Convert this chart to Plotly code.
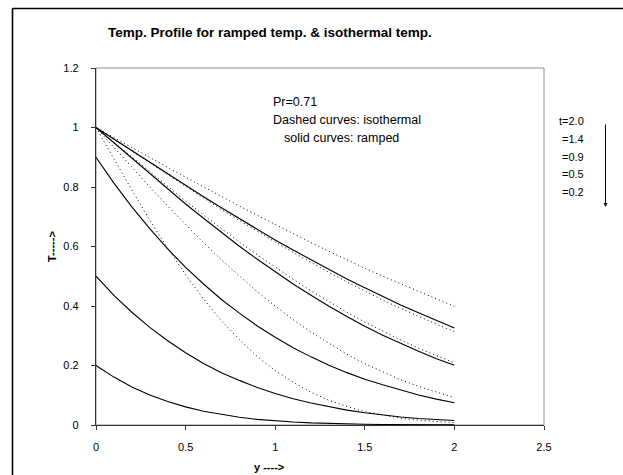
import plotly.graph_objects as go

y_vals = [0.0, 0.1, 0.2, 0.3, 0.4, 0.5, 0.6, 0.7, 0.8, 0.9, 1.0,
          1.1, 1.2, 1.3, 1.4, 1.5, 1.6, 1.7, 1.8, 1.9, 2.0]

# Ramped temperature (solid curves)
ramped_t20 = [1.000, 0.961, 0.921, 0.882, 0.843, 0.805, 0.767, 0.730, 0.693, 0.657, 0.622,
              0.588, 0.555, 0.522, 0.491, 0.461, 0.431, 0.403, 0.377, 0.351, 0.326]
ramped_t14 = [1.000, 0.948, 0.896, 0.844, 0.793, 0.743, 0.695, 0.647, 0.601, 0.557, 0.514,
              0.474, 0.436, 0.399, 0.365, 0.332, 0.302, 0.274, 0.248, 0.223, 0.201]
ramped_t09 = [0.900, 0.813, 0.733, 0.660, 0.592, 0.530, 0.474, 0.422, 0.376, 0.333, 0.295,
              0.260, 0.229, 0.201, 0.176, 0.154, 0.135, 0.117, 0.101, 0.087, 0.075]
ramped_t05 = [0.500, 0.436, 0.379, 0.328, 0.283, 0.243, 0.207, 0.176, 0.150, 0.126, 0.106,
              0.088, 0.074, 0.061, 0.050, 0.041, 0.033, 0.027, 0.022, 0.018, 0.015]
ramped_t02 = [0.200, 0.161, 0.128, 0.101, 0.079, 0.061, 0.046, 0.035, 0.026, 0.019, 0.014,
              0.010, 0.007, 0.005, 0.0035, 0.0025, 0.0017, 0.0012, 0.0008, 0.0005, 0.0003]

# Isothermal temperature (dashed curves)
iso_t20 = [1.000, 0.966, 0.933, 0.899, 0.866, 0.833, 0.800, 0.768, 0.736, 0.705, 0.674,
           0.643, 0.613, 0.584, 0.555, 0.527, 0.500, 0.474, 0.448, 0.424, 0.399]
iso_t14 = [1.000, 0.960, 0.920, 0.880, 0.840, 0.801, 0.763, 0.724, 0.687, 0.650, 0.615,
           0.580, 0.546, 0.513, 0.481, 0.450, 0.420, 0.392, 0.365, 0.339, 0.314]
iso_t09 = [1.000, 0.950, 0.900, 0.851, 0.802, 0.753, 0.706, 0.660, 0.615, 0.572, 0.530,
           0.490, 0.451, 0.414, 0.379, 0.346, 0.315, 0.286, 0.258, 0.233, 0.209]
iso_t05 = [1.000, 0.933, 0.866, 0.800, 0.736, 0.674, 0.613, 0.555, 0.500, 0.448, 0.400,
           0.354, 0.312, 0.274, 0.238, 0.206, 0.178, 0.152, 0.130, 0.110, 0.092]
iso_t02 = [1.000, 0.894, 0.790, 0.689, 0.594, 0.505, 0.424, 0.350, 0.287, 0.230, 0.183,
           0.144, 0.110, 0.083, 0.062, 0.045, 0.033, 0.023, 0.016, 0.011, 0.008]

x_ticks = [0, 0.5, 1, 1.5, 2, 2.5]
x_tick_text = ["0", "0.5", "1", "1.5", "2", "2.5"]
y_ticks = [0, 0.2, 0.4, 0.6, 0.8, 1, 1.2]
y_tick_text = ["0", "0.2", "0.4", "0.6", "0.8", "1", "1.2"]
t_labels = ["t=2.0", "=1.4", "=0.9", "=0.5", "=0.2"]

FONT = "Liberation Sans, Arial, sans-serif"

fig = go.Figure()
for s in [iso_t20, iso_t14, iso_t09, iso_t05, iso_t02]:
    fig.add_trace(go.Scatter(x=y_vals, y=s, mode="lines",
                             line=dict(color="black", width=1, dash="1px,3px"),
                             hoverinfo="skip"))
for s in [ramped_t20, ramped_t14, ramped_t09, ramped_t05, ramped_t02]:
    fig.add_trace(go.Scatter(x=y_vals, y=s, mode="lines",
                             line=dict(color="black", width=1.1),
                             hoverinfo="skip"))

W, H = 623, 475
L, R, T, B = 96, 79, 68, 50
pw, ph = W - L - R, H - T - B

def px(x):
    return (x - L) / pw

def py(y):
    return (H - B - y) / ph

annotations = [
    dict(text="<b>Temp. Profile for ramped temp. & isothermal temp.</b>",
         x=px(270), y=py(33), xref="paper", yref="paper", showarrow=False,
         xanchor="center", yanchor="middle", font=dict(size=13.5, family=FONT, color="black")),
    dict(text="<b>T-----></b>", x=px(52), y=py(247), xref="paper", yref="paper",
         showarrow=False, textangle=-90, xanchor="center", yanchor="middle",
         font=dict(size=11, family=FONT, color="black")),
    dict(text="<b>y ----></b>", x=px(269), y=py(467), xref="paper", yref="paper",
         showarrow=False, xanchor="center", yanchor="middle",
         font=dict(size=11, family=FONT, color="black")),
    dict(text="Pr=0.71", x=px(271), y=py(101.5), xref="paper", yref="paper",
         showarrow=False, xanchor="left", yanchor="middle",
         font=dict(size=12.5, family=FONT, color="black")),
    dict(text="Dashed curves: isothermal", x=px(271), y=py(119.5), xref="paper", yref="paper",
         showarrow=False, xanchor="left", yanchor="middle",
         font=dict(size=12.5, family=FONT, color="black")),
    dict(text="solid curves: ramped", x=px(282), y=py(137.5), xref="paper", yref="paper",
         showarrow=False, xanchor="left", yanchor="middle",
         font=dict(size=12.5, family=FONT, color="black")),
]
label_y = [121, 139, 156.5, 174, 191.5]
label_x = [556.5, 559.5, 559.5, 559.5, 559.5]
for txt, lx, ly in zip(t_labels, label_x, label_y):
    annotations.append(dict(text=txt, x=px(lx), y=py(ly), xref="paper", yref="paper",
                            showarrow=False, xanchor="left", yanchor="middle",
                            font=dict(size=11, family=FONT, color="black")))
# downward arrow
annotations.append(dict(text="", x=px(605.5), y=py(207), xref="paper", yref="paper",
                        showarrow=True, ax=0, ay=-84, axref="pixel", ayref="pixel",
                        arrowhead=2, arrowsize=0.8, arrowwidth=1, arrowcolor="black"))

shapes = [
    # plot area frame (gray)
    dict(type="rect", xref="paper", yref="paper", x0=0, x1=1, y0=0, y1=1,
         line=dict(color="#8c8c8c", width=1), layer="below"),
    # outer chart border (left and top edges visible)
    dict(type="line", xref="paper", yref="paper", x0=px(12.5), x1=px(623), y0=py(8.5), y1=py(8.5),
         line=dict(color="black", width=1.6)),
    dict(type="line", xref="paper", yref="paper", x0=px(12.5), x1=px(12.5), y0=py(475), y1=py(8.5),
         line=dict(color="black", width=1.6)),
]

fig.update_layout(
    width=W, height=H,
    margin=dict(l=L, r=R, t=T, b=B),
    paper_bgcolor="white", plot_bgcolor="white",
    showlegend=False,
    font=dict(family=FONT, size=11, color="black"),
    annotations=annotations,
    shapes=shapes,
    xaxis=dict(range=[0, 2.5], tickvals=x_ticks, ticktext=x_tick_text,
               showgrid=False, zeroline=False, showline=True, linecolor="#333333", linewidth=1.3,
               ticks="outside", ticklen=4, tickcolor="#333333", tickwidth=1,
               ticklabelstandoff=8,
               tickfont=dict(size=11, family=FONT, color="black")),
    yaxis=dict(range=[0, 1.2], tickvals=y_ticks, ticktext=y_tick_text,
               showgrid=False, zeroline=False, showline=True, linecolor="#333333", linewidth=1.3,
               ticks="outside", ticklen=4, tickcolor="#333333", tickwidth=1,
               ticklabelstandoff=10,
               tickfont=dict(size=11, family=FONT, color="black")),
)

fig.write_html("out.html", config={"displayModeBar": False},
               post_script="document.body.style.margin='0';document.body.style.overflow='hidden';")
